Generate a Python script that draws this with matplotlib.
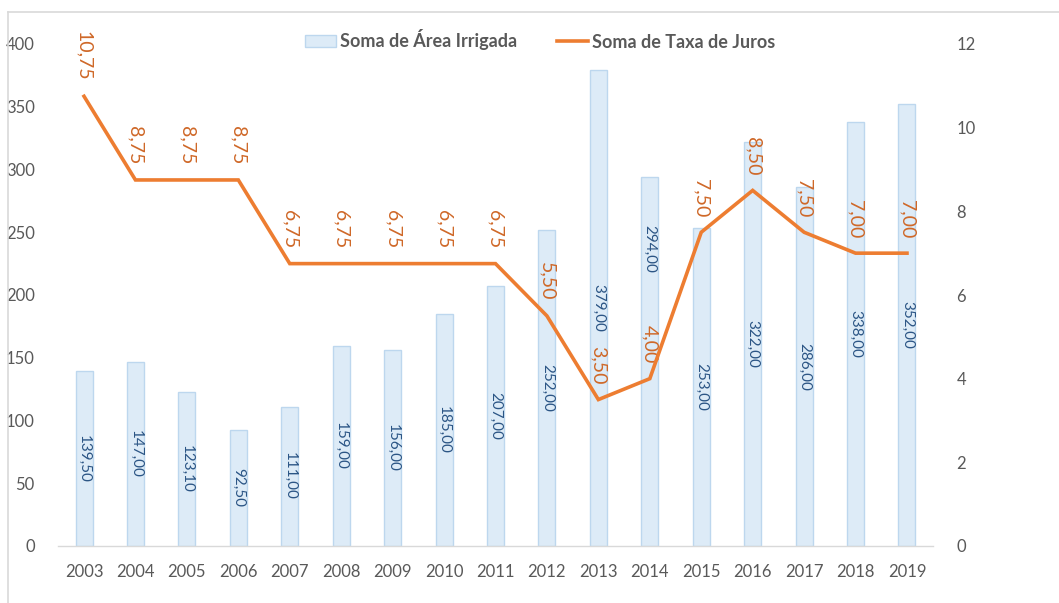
import matplotlib
matplotlib.use("Agg")
import matplotlib.pyplot as plt
from matplotlib.lines import Line2D
import numpy as np

plt.rcParams['font.family'] = ['Lato', 'DejaVu Sans']

years = [2003, 2004, 2005, 2006, 2007, 2008, 2009, 2010, 2011,
         2012, 2013, 2014, 2015, 2016, 2017, 2018, 2019]
area_irrigada = [139.5, 147.0, 123.1, 92.5, 111.0, 159.0, 156.0, 185.0, 207.0,
                 252.0, 379.0, 294.0, 253.0, 322.0, 286.0, 338.0, 352.0]
taxa_juros = [10.75, 8.75, 8.75, 8.75, 6.75, 6.75, 6.75, 6.75, 6.75,
              5.50, 3.50, 4.00, 7.50, 8.50, 7.50, 7.00, 7.00]
left_ticks = [0, 50, 100, 150, 200, 250, 300, 350, 400]
right_ticks = [0, 2, 4, 6, 8, 10, 12]

def br(v):
    return f"{v:.2f}".replace('.', ',')

grey = '#595959'
orange = '#ED7D31'
orange_text = '#CF6828'
bar_fill = '#DDEBF7'
bar_edge = '#BDD7EE'
label_blue = '#2B5585'

fig = plt.figure(figsize=(10.59, 6.03), dpi=100)
ax = fig.add_axes([58.3 / 1059, 1 - 546 / 603, (932.7 - 58.3) / 1059, (546 - 44) / 603])
ax2 = ax.twinx()

x = np.arange(len(years))
bars = ax.bar(x, area_irrigada, width=0.33, color=bar_fill, edgecolor=bar_edge,
              linewidth=1.0, label='Soma de Área Irrigada', zorder=2)

# value labels sit at mid-bar; the 2014 one is lifted clear of the rate line
label_y = [v / 2 for v in area_irrigada]
label_y[years.index(2014)] = 237
for xi, v, ly in zip(x, area_irrigada, label_y):
    ax.text(xi, ly, br(v), rotation=-90, ha='center', va='center',
            fontsize=11, color=label_blue, zorder=3)

ax.set_xlim(-0.5, len(years) - 0.5)
ax.set_ylim(0, 400)
ax.set_yticks(left_ticks)
ax.set_xticks(x)
ax.set_xticklabels([str(y) for y in years])
ax.tick_params(axis='both', length=0, labelsize=12, labelcolor=grey)
ax.tick_params(axis='y', pad=17)
ax.tick_params(axis='x', pad=13)
for s in ['top', 'left', 'right']:
    ax.spines[s].set_visible(False)
ax.spines['bottom'].set_color('#D9D9D9')
ax.spines['bottom'].set_linewidth(1.0)

line, = ax2.plot(x, taxa_juros, color=orange, linewidth=2.6,
                 solid_joinstyle='miter', label='Soma de Taxa de Juros', zorder=4)
for xi, v in zip(x, taxa_juros):
    ax2.annotate(br(v), (xi, v), xytext=(0, 11), textcoords='offset points',
                 rotation=-90, ha='center', va='bottom', fontsize=14,
                 color=orange_text)
ax2.set_ylim(0, 12)
ax2.set_yticks(right_ticks)
ax2.tick_params(axis='y', length=0, labelsize=12, labelcolor=grey, pad=17)
for s in ['top', 'left', 'right', 'bottom']:
    ax2.spines[s].set_visible(False)

fig.legend(handles=[bars, line], labels=['Soma de Área Irrigada', 'Soma de Taxa de Juros'],
           loc='center', bbox_to_anchor=(540 / 1059, 1 - 40 / 603), ncol=2,
           frameon=False, prop={'weight': 'bold', 'size': 13}, labelcolor=grey,
           handlelength=1.75, handleheight=0.6, handletextpad=0.2, columnspacing=2.2)

# chart frame
fig.add_artist(Line2D([8 / 1059, 1.0], [1 - 12 / 603, 1 - 12 / 603],
                      transform=fig.transFigure, color='#D9D9D9', linewidth=1.2))
fig.add_artist(Line2D([8 / 1059, 8 / 1059], [0.0, 1 - 12 / 603],
                      transform=fig.transFigure, color='#D9D9D9', linewidth=1.2))

fig.savefig('out.png', dpi=100, facecolor='white')
